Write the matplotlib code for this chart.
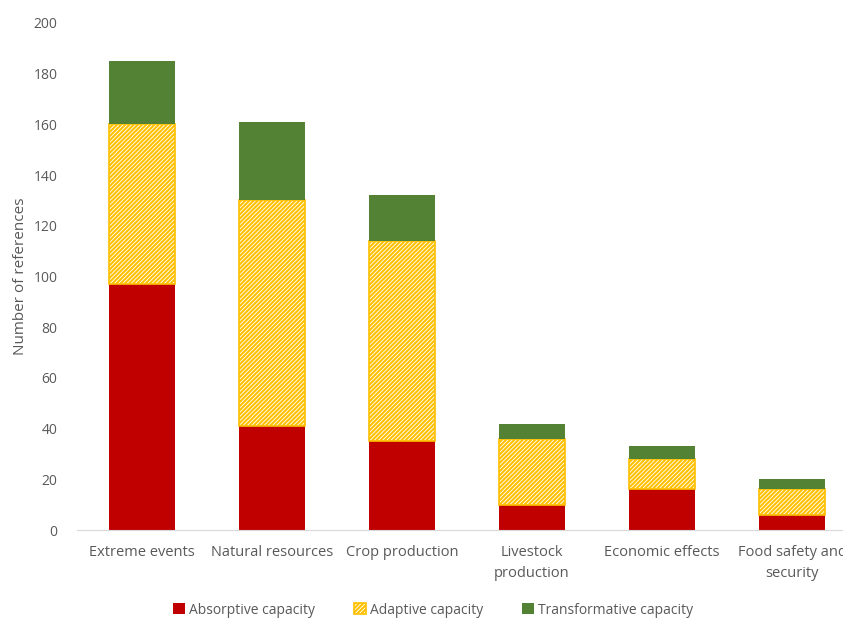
import numpy as np
import matplotlib
matplotlib.use('Agg')
import matplotlib.pyplot as plt

categories = ['Extreme events', 'Natural resources', 'Crop production',
              'Livestock\nproduction', 'Economic effects', 'Food safety and\nsecurity']
absorptive = [97, 41, 35, 10, 16, 6]
adaptive = [63, 89, 79, 26, 12, 10]
transformative = [25, 31, 18, 6, 5, 4]

plt.rcParams['font.family'] = ['Open Sans', 'DejaVu Sans']
plt.rcParams['hatch.linewidth'] = 1.5
plt.rcParams['hatch.color'] = '#FFC000'

grey = '#595959'
fig = plt.figure(figsize=(8.43, 6.19), dpi=100)
ax = fig.add_axes([77/843, 89/619, 780/843, 507/619])

x = np.arange(len(categories))
w = 0.51
absorptive = np.array(absorptive)
adaptive = np.array(adaptive)
transformative = np.array(transformative)

ax.bar(x, absorptive, w, color='#C00000', label='Absorptive capacity')
ax.bar(x, adaptive, w, bottom=absorptive, color='white', edgecolor='#FFC000',
       hatch='////////', linewidth=1.2, label='Adaptive capacity')
ax.bar(x, transformative, w, bottom=absorptive + adaptive, color='#548235',
       label='Transformative capacity')

ax.set_xlim(-0.5, 5.5)
ax.set_ylim(0, 200)
ax.set_yticks(np.arange(0, 201, 20))
ax.set_xticks(x)
ax.set_xticklabels(categories, fontsize=10.5, color=grey, linespacing=1.55)
ax.tick_params(axis='y', length=0, labelsize=10, labelcolor=grey, pad=14)
ax.tick_params(axis='x', length=0, pad=11)
for s in ['top', 'right', 'left']:
    ax.spines[s].set_visible(False)
ax.spines['bottom'].set_color('#D9D9D9')
ax.set_ylabel('Number of references', fontsize=11, color=grey, labelpad=4)

fig.legend(loc='center', bbox_to_anchor=(433/843, 1 - 610/619), ncol=3,
           frameon=False, fontsize=10, labelcolor=grey, handlelength=0.85,
           handleheight=0.85, handletextpad=0.3, columnspacing=2.8)

fig.savefig('out.png', dpi=100)
